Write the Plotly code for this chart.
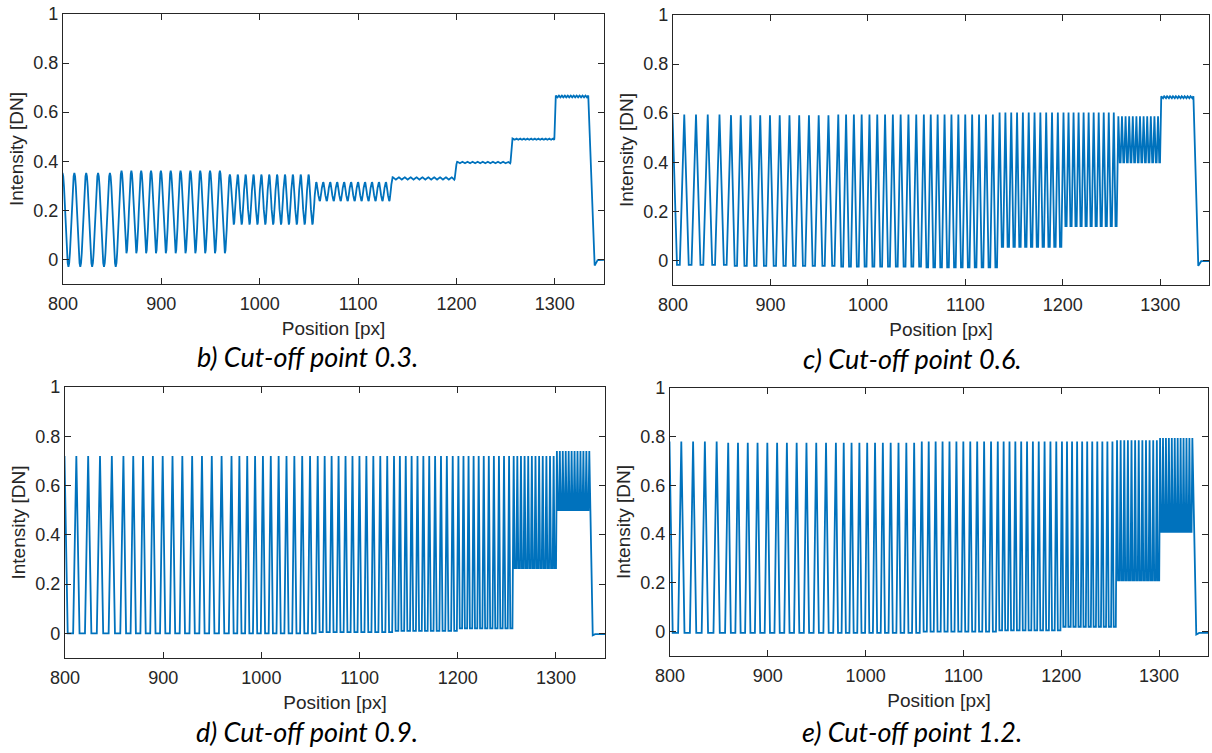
import numpy as np
import plotly.graph_objects as go

W, H = 1212, 753

# ---- bar-target groups ----
group_first_peak = [799.5, 859.5, 969.6, 1057.4, 1135.1, 1200.7, 1257.0, 1301.0]
group_period = [12.05, 10.0, 8.0, 7.08, 5.98, 5.16, 3.7, 3.0]
group_count = [5, 11, 11, 11, 11, 11, 12, 12]

# ---- per-panel peak / trough levels for each group ----
b_high = [0.353, 0.362, 0.346, 0.315, 0.335, 0.398, 0.493, 0.668]
b_low = [-0.03, 0.025, 0.142, 0.238, 0.325, 0.392, 0.487, 0.660]
c_high = [0.595, 0.592, 0.595, 0.595, 0.603, 0.603, 0.587, 0.669]
c_low = [-0.018, -0.022, -0.025, -0.028, 0.055, 0.14, 0.40, 0.661]
d_high = [0.72, 0.72, 0.72, 0.72, 0.72, 0.72, 0.72, 0.74]
d_low = [0.0, 0.0, 0.0, 0.005, 0.01, 0.02, 0.265, 0.50]
e_high = [0.78, 0.775, 0.775, 0.78, 0.78, 0.78, 0.785, 0.795]
e_low = [-0.005, -0.005, -0.005, 0.0, 0.005, 0.02, 0.21, 0.41]

# ---- falling edge / dark tail after the target ----
b_tail_x = [1340.5, 1343.5, 1350]
b_tail_y = [-0.025, -0.003, -0.002]
c_tail_x = [1339.0, 1342.0, 1350]
c_tail_y = [-0.022, -0.003, -0.003]
d_tail_x = [1337.5, 1340.0, 1350]
d_tail_y = [-0.008, -0.003, -0.003]
e_tail_x = [1338.0, 1341.0, 1350]
e_tail_y = [-0.012, -0.005, -0.005]

captions = ["b) Cut-off point 0.3.", "c) Cut-off point 0.6.",
            "d) Cut-off point 0.9.", "e) Cut-off point 1.2."]
x_ticks = [800, 900, 1000, 1100, 1200, 1300]
y_ticks = [0, 0.2, 0.4, 0.6, 0.8, 1]
y_ticktext = ["0", "0.2", "0.4", "0.6", "0.8", "1"]


def build(high, low, tail_x, tail_y, shape, a=0.3):
    peaks = []
    for g in range(len(group_first_peak)):
        for k in range(group_count[g]):
            peaks.append((group_first_peak[g] + k * group_period[g], high[g], low[g]))
    xs, ys = [], []
    for j, (px, h, l) in enumerate(peaks):
        if j == len(peaks) - 1:
            xs.append(px)
            ys.append(h)
            break
        nx, nh, _ = peaks[j + 1]
        gap = nx - px
        if shape == "sin":
            for tt in np.linspace(0, 1, 17)[:-1]:
                f = (1 + np.cos(2 * np.pi * tt)) / 2
                top = h if tt < 0.5 else nh
                xs.append(px + tt * gap)
                ys.append(l + (top - l) * f)
        else:
            xs += [px, px + a * gap, nx - a * gap]
            ys += [h, l, l]
    xs += list(tail_x)
    ys += list(tail_y)
    return xs, ys


panels = [
    build(b_high, b_low, b_tail_x, b_tail_y, "sin"),
    build(c_high, c_low, c_tail_x, c_tail_y, "lin", 0.38),
    build(d_high, d_low, d_tail_x, d_tail_y, "lin", 0.27),
    build(e_high, e_low, e_tail_x, e_tail_y, "lin", 0.27),
]

# plot boxes in pixels: (left, right, top, bottom)
boxes = [(63, 604, 14, 284), (673, 1209, 15, 285), (65, 605, 387, 658), (670, 1208, 388, 656)]
caption_pos = [(307, 356), (912, 358), (307, 731), (912, 731)]

fig = go.Figure()
axis_col = "#262626"
tick_font = dict(family="Liberation Sans, Arial, sans-serif", size=18, color=axis_col)
title_font = dict(family="Liberation Sans, Arial, sans-serif", size=19, color=axis_col)
layout = dict(
    width=W, height=H, margin=dict(l=0, r=0, t=0, b=0),
    paper_bgcolor="white", plot_bgcolor="white", showlegend=False,
)
annotations = []
for i, ((xs, ys), (l, r, t, b)) in enumerate(zip(panels, boxes)):
    n = "" if i == 0 else str(i + 1)
    fig.add_trace(go.Scatter(x=xs, y=ys, mode="lines",
                             line=dict(color="#0072BD", width=1.8),
                             xaxis="x" + n, yaxis="y" + n, hoverinfo="skip"))
    layout["xaxis" + n] = dict(
        domain=[l / W, r / W], anchor="y" + n, range=[800, 1350],
        tickvals=x_ticks, ticks="inside", ticklen=6, tickwidth=1.2, tickcolor=axis_col,
        showline=True, linecolor=axis_col, linewidth=1.3, mirror="ticks",
        showgrid=False, zeroline=False, tickfont=tick_font, ticklabelstandoff=3,
        title=dict(text="Position [px]", font=title_font, standoff=8),
        automargin=False,
    )
    layout["yaxis" + n] = dict(
        domain=[1 - b / H, 1 - t / H], anchor="x" + n, range=[-0.1, 1],
        tickvals=y_ticks, ticktext=y_ticktext, ticks="inside", ticklen=6, tickwidth=1.2,
        tickcolor=axis_col, showline=True, linecolor=axis_col, linewidth=1.3, mirror="ticks",
        showgrid=False, zeroline=False, tickfont=tick_font,
        title=dict(text="Intensity [DN]", font=title_font, standoff=4),
        automargin=False,
    )
    cx, cy = caption_pos[i]
    annotations.append(dict(
        text="<i>" + captions[i] + "</i>", x=cx / W, y=1 - cy / H, xref="paper", yref="paper",
        xanchor="center", yanchor="middle", showarrow=False,
        font=dict(family="Lato, Open Sans, sans-serif", size=27, color="black"),
    ))

layout["annotations"] = annotations
fig.update_layout(**layout)
fig.write_html("out.html")
